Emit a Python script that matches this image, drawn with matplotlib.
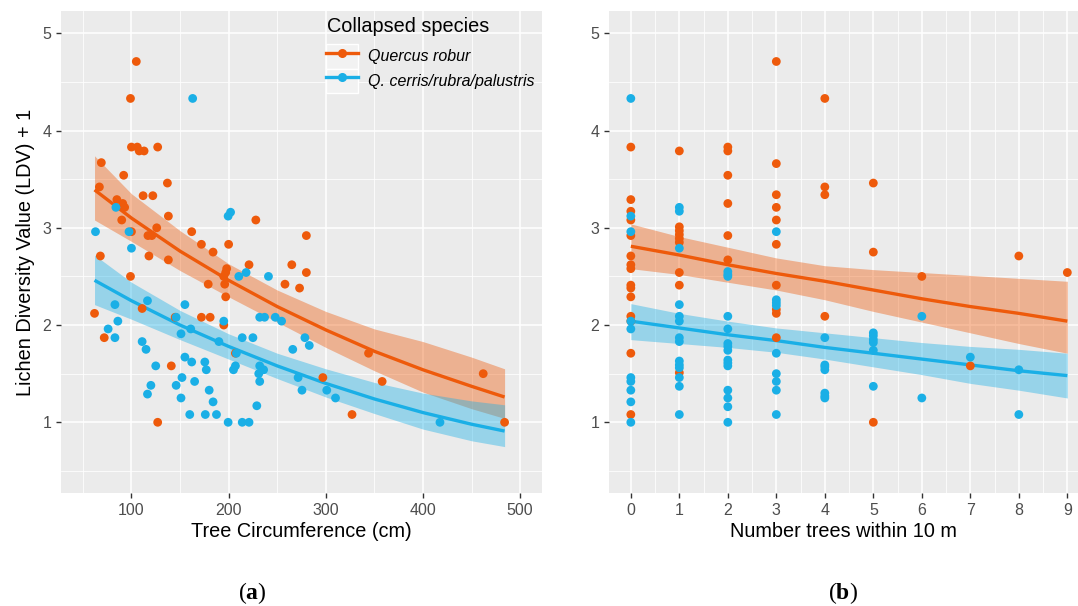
#!/usr/bin/env python3
"""Lichen diversity vs tree circumference / neighbouring trees, two panels (ggplot look)."""

import matplotlib.pyplot as plt
from matplotlib.lines import Line2D
from matplotlib.patches import Patch
from matplotlib.ticker import MultipleLocator

plt.rcParams["font.family"] = ["Liberation Sans", "DejaVu Sans"]
plt.rcParams["mathtext.fontset"] = "custom"
plt.rcParams["mathtext.rm"] = "Liberation Serif"
plt.rcParams["mathtext.bf"] = "Liberation Serif:bold"

ORANGE = "#EE5A0B"
BLUE = "#1AAFE6"
species = ["Quercus robur", "Q. cerris/rubra/palustris"]

# ---- panel (a): circumference (cm) vs LDV + 1 ----
qr_circ = [105, 99, 100, 106, 108, 113, 127, 69, 92, 137, 67, 112, 122, 85, 91, 93, 90,
           138, 162, 228, 280, 126, 117, 121, 100, 172, 184, 200, 68, 118, 138, 221, 265,
           280, 198, 197, 195, 99, 179, 196, 258, 273, 197, 62, 111, 145, 172, 181, 195,
           72, 141, 127, 207, 344, 297, 358, 327, 462, 484]
qr_ldv = [4.71, 4.33, 3.83, 3.83, 3.79, 3.79, 3.83, 3.67, 3.54, 3.46, 3.42, 3.33, 3.33,
          3.29, 3.25, 3.21, 3.08, 3.12, 2.96, 3.08, 2.92, 3.00, 2.92, 2.92, 2.96, 2.83,
          2.75, 2.83, 2.71, 2.71, 2.67, 2.62, 2.62, 2.54, 2.58, 2.54, 2.50, 2.50, 2.42,
          2.42, 2.42, 2.38, 2.29, 2.12, 2.17, 2.08, 2.08, 2.08, 2.00, 1.87, 1.58, 1.00,
          1.71, 1.71, 1.46, 1.42, 1.08, 1.50, 1.00]

qc_circ = [163, 84, 63, 97.5, 100, 199.5, 202, 210.5, 218, 241, 83, 116.5, 155, 86, 76,
           83, 146, 161, 151, 195, 190, 214, 225, 232, 237, 248, 254.5, 278.5, 283, 266,
           111, 115, 208, 155, 162, 175.5, 177, 125, 232, 236, 231, 232, 207, 205, 152,
           165, 146, 120, 180, 116.5, 151, 184, 229, 160, 176, 187.5, 199.5, 214, 221,
           271.5, 275.5, 301, 310, 417.5]
qc_ldv = [4.33, 3.21, 2.96, 2.96, 2.79, 3.12, 3.16, 2.50, 2.54, 2.50, 2.21, 2.25, 2.21,
          2.04, 1.96, 1.87, 2.08, 1.96, 1.91, 2.04, 1.83, 1.87, 1.87, 2.08, 2.08, 2.08,
          2.04, 1.87, 1.79, 1.75, 1.83, 1.75, 1.71, 1.67, 1.62, 1.62, 1.54, 1.58, 1.58,
          1.54, 1.50, 1.42, 1.58, 1.54, 1.46, 1.42, 1.38, 1.38, 1.33, 1.29, 1.25, 1.21,
          1.17, 1.08, 1.08, 1.08, 1.00, 1.00, 1.00, 1.46, 1.33, 1.33, 1.25, 1.00]

# fitted curves + confidence ribbons
fit_circ = [62, 100, 150, 200, 250, 300, 350, 400, 450, 484]
qr_fit_a = [3.39, 3.10, 2.76, 2.46, 2.19, 1.95, 1.73, 1.54, 1.37, 1.26]
qr_hi_a = [3.74, 3.35, 2.97, 2.63, 2.36, 2.14, 1.96, 1.83, 1.67, 1.55]
qr_lo_a = [3.08, 2.86, 2.56, 2.29, 2.03, 1.77, 1.53, 1.31, 1.14, 1.04]
qc_fit_a = [2.46, 2.25, 2.00, 1.78, 1.58, 1.40, 1.24, 1.10, 0.98, 0.91]
qc_hi_a = [2.72, 2.44, 2.15, 1.91, 1.71, 1.55, 1.41, 1.30, 1.22, 1.18]
qc_lo_a = [2.21, 2.06, 1.85, 1.65, 1.45, 1.26, 1.09, 0.93, 0.81, 0.75]

# ---- panel (b): number of trees within 10 m vs LDV + 1 ----
qr_n = [0, 0, 0, 0, 0, 0, 0, 0, 0, 0, 0, 0, 0, 0, 0,
        1, 1, 1, 1, 1, 1, 1, 1, 1,
        2, 2, 2, 2, 2, 2,
        3, 3, 3, 3, 3, 3, 3, 3, 3, 3,
        4, 4, 4, 4,
        5, 5, 5,
        6, 7, 8, 9]
qr_ldv_b = [3.83, 3.29, 3.17, 3.08, 2.92, 2.71, 2.62, 2.58, 2.41, 2.38, 2.29, 2.09, 2.04, 1.71, 1.08,
            3.79, 3.01, 2.97, 2.93, 2.89, 2.85, 2.54, 2.41, 1.51,
            3.83, 3.79, 3.54, 3.25, 2.92, 2.67,
            4.71, 3.66, 3.34, 3.21, 3.08, 2.83, 2.41, 2.16, 2.12, 1.87,
            4.33, 3.42, 3.34, 2.09,
            3.46, 2.75, 1.00,
            2.50, 1.58, 2.71, 2.54]

qc_n = [0, 0, 0, 0, 0, 0, 0, 0, 0, 0,
        1, 1, 1, 1, 1, 1, 1, 1, 1, 1, 1, 1, 1, 1,
        2, 2, 2, 2, 2, 2, 2, 2, 2, 2, 2, 2, 2, 2, 2,
        3, 3, 3, 3, 3, 3, 3, 3, 3,
        4, 4, 4, 4, 4, 4, 4,
        5, 5, 5, 5, 5, 5,
        6, 6, 7, 8, 8]
qc_ldv_b = [4.33, 3.12, 2.96, 2.04, 1.96, 1.46, 1.42, 1.33, 1.21, 1.00,
            3.21, 3.17, 2.79, 2.21, 2.09, 2.04, 1.87, 1.83, 1.63, 1.59, 1.56, 1.46, 1.37, 1.08,
            2.55, 2.52, 2.50, 2.09, 1.96, 1.81, 1.78, 1.74, 1.64, 1.61, 1.58, 1.33, 1.25, 1.16, 1.00,
            2.96, 2.26, 2.23, 2.20, 1.71, 1.50, 1.42, 1.33, 1.08,
            1.87, 1.59, 1.57, 1.54, 1.30, 1.27, 1.25,
            1.92, 1.89, 1.85, 1.82, 1.74, 1.37,
            2.09, 1.25, 1.67, 1.54, 1.08]

fit_n = [0, 1, 2, 3, 4, 5, 6, 7, 8, 9]
qr_fit_b = [2.81, 2.72, 2.62, 2.53, 2.45, 2.36, 2.27, 2.19, 2.12, 2.04]
qr_hi_b = [3.04, 2.91, 2.80, 2.69, 2.61, 2.57, 2.54, 2.51, 2.48, 2.45]
qr_lo_b = [2.58, 2.52, 2.44, 2.36, 2.26, 2.14, 2.03, 1.92, 1.81, 1.71]
qc_fit_b = [2.04, 1.97, 1.90, 1.84, 1.77, 1.71, 1.65, 1.59, 1.53, 1.48]
qc_hi_b = [2.22, 2.12, 2.04, 1.97, 1.92, 1.87, 1.82, 1.78, 1.75, 1.71]
qc_lo_b = [1.85, 1.81, 1.77, 1.72, 1.65, 1.57, 1.49, 1.40, 1.33, 1.25]


def style_panel(ax, xmajor, xminor):
    ax.set_facecolor("#EBEBEB")
    for sp in ax.spines.values():
        sp.set_visible(False)
    ax.xaxis.set_major_locator(MultipleLocator(xmajor))
    ax.xaxis.set_minor_locator(MultipleLocator(xminor))
    ax.yaxis.set_major_locator(MultipleLocator(1))
    ax.yaxis.set_minor_locator(MultipleLocator(0.5))
    ax.grid(which="major", color="white", linewidth=1.1)
    ax.grid(which="minor", color="white", linewidth=0.55)
    ax.set_axisbelow(True)
    ax.tick_params(which="major", length=3.6, width=1.0, color="#333333",
                   labelcolor="#4D4D4D", labelsize=11.5, pad=3.5)
    ax.tick_params(which="minor", length=0)
    ax.set_ylim(0.275, 5.225)


def draw_series(ax, fx, fit, lo, hi, px, py, color):
    ax.fill_between(fx, lo, hi, color=color, alpha=0.4, linewidth=0, zorder=1)
    ax.plot(fx, fit, color=color, linewidth=2.4, zorder=2, solid_capstyle="butt")
    ax.scatter(px, py, s=40, color=color, edgecolors="none", zorder=3)


W, H = 1078.0, 606.0
fig = plt.figure(figsize=(W / 100, H / 100), dpi=100)
bottom = 1 - 492.8 / H
height = (492.8 - 11.4) / H
ax1 = fig.add_axes([61 / W, bottom, 481 / W, height])
ax2 = fig.add_axes([609 / W, bottom, (W - 609) / W, height])

# Panel A
style_panel(ax1, 100, 50)
draw_series(ax1, fit_circ, qr_fit_a, qr_lo_a, qr_hi_a, qr_circ, qr_ldv, ORANGE)
draw_series(ax1, fit_circ, qc_fit_a, qc_lo_a, qc_hi_a, qc_circ, qc_ldv, BLUE)
ax1.set_xlim(27.5, 522.5)
ax1.set_xlabel("Tree Circumference (cm)", fontsize=14.3, labelpad=3)
ax1.set_ylabel("Lichen Diversity Value (LDV) + 1", fontsize=14.3, labelpad=5)

# Panel B
style_panel(ax2, 1, 0.5)
draw_series(ax2, fit_n, qr_fit_b, qr_lo_b, qr_hi_b, qr_n, qr_ldv_b, ORANGE)
draw_series(ax2, fit_n, qc_fit_b, qc_lo_b, qc_hi_b, qc_n, qc_ldv_b, BLUE)
ax2.set_xlim(-0.45, 9.22)
ax2.set_xlabel("Number trees within 10 m", fontsize=14.3, labelpad=3)

# Legend (inside panel A, ggplot-like keys)
handles = [
    (Patch(facecolor="#F2F2F2", edgecolor="white", linewidth=1.0),
     Line2D([], [], color=c, linewidth=2.4, marker="o", markersize=5.5))
    for c in (ORANGE, BLUE)
]
ax1.legend(handles, species, loc="upper left", bbox_to_anchor=(326 / W, 1 - 44 / H),
           bbox_transform=fig.transFigure, frameon=False, borderpad=0, borderaxespad=0,
           handlelength=2.0, handleheight=2.0, labelspacing=0, handletextpad=0.65,
           prop={"size": 11.5, "style": "italic"})
fig.text(326.7 / W, 1 - 26 / H, "Collapsed species", fontsize=14.3, ha="left", va="center")

# sub-figure captions
fig.text(252 / W, 1 - 593 / H, r"$(\mathbf{a})$", fontsize=17, ha="center", va="center")
fig.text(843 / W, 1 - 593 / H, r"$(\mathbf{b})$", fontsize=17, ha="center", va="center")

fig.savefig("out.png", dpi=100, facecolor="white")
